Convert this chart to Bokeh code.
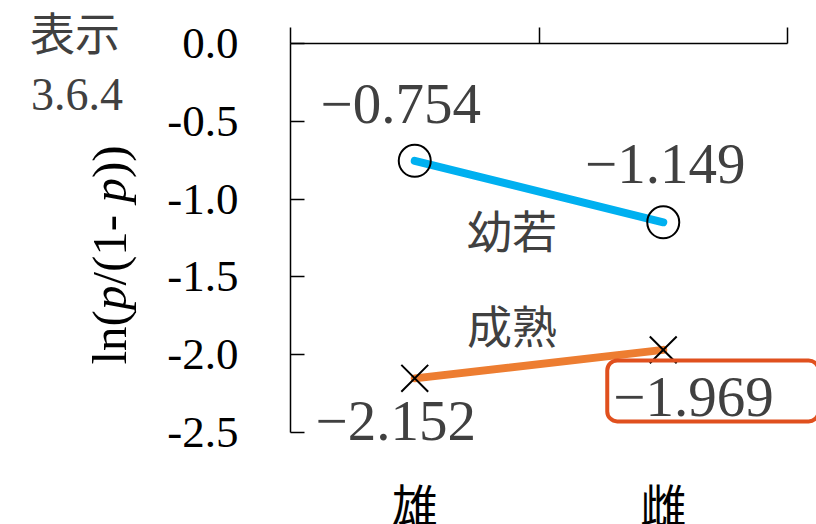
from bokeh.plotting import figure
from bokeh.models import FixedTicker, Label, Range1d, Div
from bokeh.layouts import row
from bokeh.core.properties import value
from bokeh.embed import file_html
from bokeh.resources import INLINE

# Logit of proportion by sex, for juvenile and adult groups
categories = ["雄", "雌"]
cat_x = [0.5, 1.5]
juvenile = [-0.754, -1.149]
adult = [-2.152, -1.969]
group_names = ["幼若", "成熟"]
y_ticks = [0.0, -0.5, -1.0, -1.5, -2.0, -2.5]
y_tick_labels = ["0.0", "-0.5", "-1.0", "-1.5", "-2.0", "-2.5"]
x_bounds = [0, 1, 2]

SERIF = "Liberation Serif"
CJK = "Noto Sans CJK JP"
GRAY = "#404040"

# canvas geometry (pixels inside the figure)
W, H = 666, 524
SIDE_W = 150
TOP, AXIS_BOTTOM = 43, 432
LEFT, AXIS_RIGHT = 140, 637


def fmt(v):
    return "\u2212" + f"{abs(v):.3f}" if v < 0 else f"{v:.3f}"


# the frame runs to the right and bottom edges so labels there are not cut;
# the axes themselves are bounded to the data span
y_top, y_bot = y_ticks[0], y_ticks[-1]
y_lo = y_top - (H - TOP) * (y_top - y_bot) / (AXIS_BOTTOM - TOP)
x_hi = x_bounds[-1] * (W - LEFT) / (AXIS_RIGHT - LEFT)

p = figure(width=W, height=H, x_range=Range1d(x_bounds[0], x_hi), y_range=Range1d(y_lo, y_top),
           output_backend="svg", toolbar_location=None, x_axis_location="above",
           min_border_left=LEFT, min_border_right=0, min_border_top=TOP,
           min_border_bottom=0)
p.outline_line_color = None
p.grid.visible = False
p.background_fill_color = "white"
p.border_fill_color = "white"

# top axis: category boundaries only, no labels
xa = p.xaxis[0]
xa.ticker = FixedTicker(ticks=[], minor_ticks=x_bounds)
xa.bounds = (x_bounds[0], x_bounds[-1])
xa.minor_tick_out = 16
xa.minor_tick_in = 0
xa.minor_tick_line_color = "black"
xa.minor_tick_line_width = 1.5
xa.major_tick_line_color = None
xa.axis_line_color = "black"
xa.axis_line_width = 1.5

ya = p.yaxis[0]
ya.ticker = FixedTicker(ticks=y_ticks)
ya.bounds = (y_bot, y_top)
ya.major_label_overrides = {t: s for t, s in zip(y_ticks, y_tick_labels)}
ya.major_tick_in = 14
ya.major_tick_out = 0
ya.minor_tick_line_color = None
ya.axis_line_color = "black"
ya.axis_line_width = 1.5
ya.major_tick_line_color = "black"
ya.major_tick_line_width = 1.5
ya.major_label_standoff = 52
ya.major_label_text_font = SERIF
ya.major_label_text_font_size = "45px"
ya.major_label_text_color = "black"

# series lines and markers
p.line(cat_x, juvenile, line_color="#00B0F0", line_width=8, line_cap="round")
p.line(cat_x, adult, line_color="#ED7D31", line_width=8, line_cap="round")
p.scatter(cat_x, juvenile, marker="circle", size=32, fill_color=None,
          line_color="black", line_width=2)
p.scatter(cat_x, adult, marker="x", size=38, line_color="black", line_width=2)

# value labels (pixel offsets from each point)
LBL = dict(text_font=SERIF, text_font_size="57px", text_color=GRAY, text_baseline="middle")
juv_off = [(-14, 57), (2, 58)]
for x, v, (dx, dy) in zip(cat_x, juvenile, juv_off):
    p.add_layout(Label(x=x, y=v, x_offset=dx, y_offset=dy, text=fmt(v),
                       text_align="center", **LBL))
p.add_layout(Label(x=cat_x[0], y=adult[0], x_offset=-19, y_offset=-43, text=fmt(adult[0]),
                   text_align="center", **LBL))
# highlighted value inside a rounded frame
p.add_layout(Label(x=cat_x[1], y=adult[1], x_offset=-56, y_offset=-41, text=fmt(adult[1]),
                   text_align="left", border_line_color="#E0501E", border_line_width=4,
                   border_radius=10, padding=(6, 45, 18, 5), **LBL))

# group names near the middle of each line
mid = sum(cat_x) / 2
p.add_layout(Label(x=mid, y=sum(juvenile) / 2, x_offset=-27, y_offset=-38, text=group_names[0],
                   text_font=CJK, text_font_size="45px", text_color=GRAY,
                   text_align="center", text_baseline="middle"))
p.add_layout(Label(x=mid, y=sum(adult) / 2, x_offset=-27, y_offset=40, text=group_names[1],
                   text_font=CJK, text_font_size="45px", text_color=GRAY,
                   text_align="center", text_baseline="middle"))

# category names under the plot
p.text(x=cat_x, y=[y_bot] * len(cat_x), text=categories, y_offset=70,
       text_font=value(CJK), text_font_size="46px", text_color="black",
       text_align="center", text_baseline="middle")

# left strip: caption and y axis title (italic p)
side_html = f"""
<div style="position:relative;width:{SIDE_W}px;height:{H}px;background:white;overflow:visible;">
  <span style="position:absolute;left:30px;top:7px;font-family:'{CJK}';font-size:45px;
               line-height:1.1;color:{GRAY};white-space:nowrap;">表示</span>
  <span style="position:absolute;left:31px;top:72px;font-family:'{SERIF}';font-size:46px;
               line-height:1;color:{GRAY};white-space:nowrap;">3.6.4</span>
  <span style="position:absolute;left:109px;top:255px;font-family:'{SERIF}';font-size:49px;
               line-height:1;color:black;white-space:nowrap;
               transform:translate(-50%,-50%) rotate(-90deg);">ln(<i>p</i>/(1- <i>p</i>))</span>
</div>
"""
side = Div(text=side_html, width=SIDE_W, height=H, margin=0)

layout = row(side, p, spacing=0)
open("out.html", "w").write(file_html(layout, INLINE))
